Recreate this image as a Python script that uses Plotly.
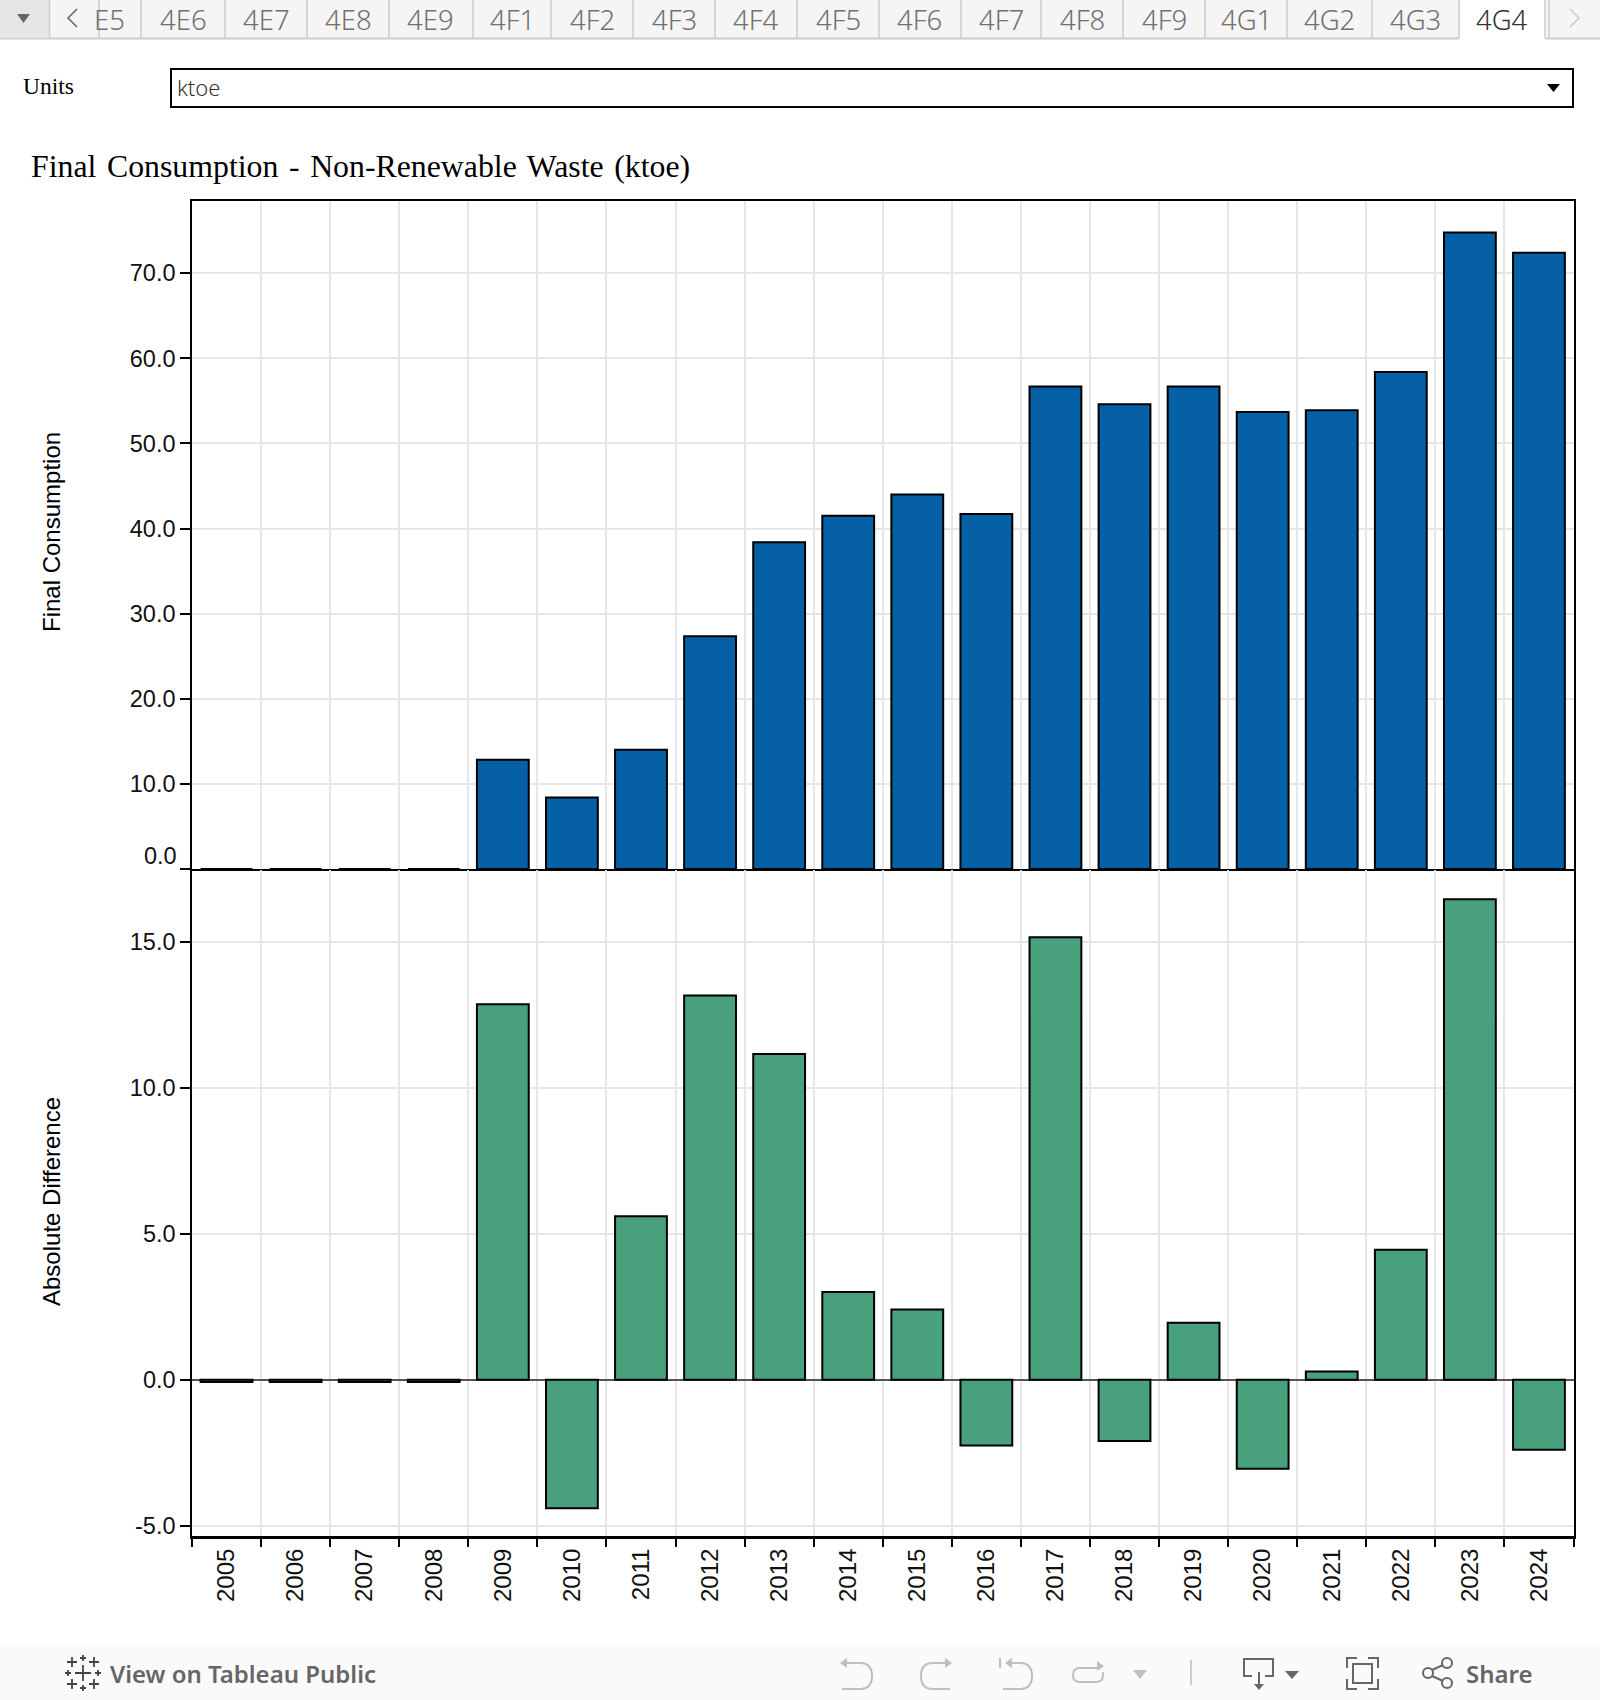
import re
import plotly.graph_objects as go

years = ["2005", "2006", "2007", "2008", "2009", "2010", "2011", "2012", "2013", "2014",
         "2015", "2016", "2017", "2018", "2019", "2020", "2021", "2022", "2023", "2024"]
final_consumption = [0, 0, 0, 0, 12.85, 8.4, 14.0, 27.35, 38.4, 41.5,
                     44.0, 41.7, 56.7, 54.6, 56.7, 53.7, 53.9, 58.4, 74.8, 72.4]
absolute_difference = [-0.08, -0.08, -0.08, -0.08, 12.85, -4.4, 5.6, 13.15, 11.15, 3.0,
                       2.4, -2.25, 15.15, -2.1, 1.95, -3.05, 0.28, 4.45, 16.45, -2.4]
top_ticks = [0, 10, 20, 30, 40, 50, 60, 70]
top_tick_labels = ["", "10.0", "20.0", "30.0", "40.0", "50.0", "60.0", "70.0"]
low_ticks = [-5, 0, 5, 10, 15]
low_tick_labels = ["-5.0", "0.0", "5.0", "10.0", "15.0"]
tab_labels = ["E5", "4E6", "4E7", "4E8", "4E9", "4F1", "4F2", "4F3", "4F4", "4F5",
              "4F6", "4F7", "4F8", "4F9", "4G1", "4G2", "4G3", "4G4"]
tab_edges = [99, 141, 225, 307, 389, 473, 551, 633, 715, 797, 879, 961, 1041, 1123, 1205, 1287, 1372, 1459, 1545]

W, H = 1600, 1700
BLUE = "#0560a6"
GREEN = "#48a17c"
GRID = "#e6e6e6"
SANS = "Liberation Sans"
SERIF = "Liberation Serif"
UI = "Noto Sans"
TAB = "Noto Sans"


def X(v):
    return v / W


def Y(v):
    return 1 - v / H


def conv(path):
    out, is_x = [], True
    for tok in re.findall(r"[A-Za-z]|-?[\d.]+", path):
        if tok.isalpha():
            out.append(tok)
            is_x = True
        else:
            out.append(f"{X(float(tok)) if is_x else Y(float(tok)):.5f}")
            is_x = not is_x
    return " ".join(out)


shapes = []
annotations = []


def rect(x0, y0, x1, y1, fill=None, line=None, w=1, layer="above"):
    shapes.append(dict(type="rect", xref="paper", yref="paper", x0=X(x0), x1=X(x1), y0=Y(y0), y1=Y(y1),
                       fillcolor=fill or "rgba(0,0,0,0)", line=dict(color=line or "rgba(0,0,0,0)", width=w if line else 0),
                       layer=layer))


def path(p, line=None, w=2, fill=None):
    shapes.append(dict(type="path", xref="paper", yref="paper", path=conv(p),
                       fillcolor=fill or "rgba(0,0,0,0)", line=dict(color=line or "rgba(0,0,0,0)", width=w if line else 0),
                       layer="above"))


def circle(cx, cy, r, line, w=2):
    shapes.append(dict(type="circle", xref="paper", yref="paper", x0=X(cx - r), x1=X(cx + r), y0=Y(cy + r), y1=Y(cy - r),
                       line=dict(color=line, width=w), layer="above"))


def text(s, x, y, size, color="#000", family=SANS, anchor="center", angle=0, weight=None):
    font = dict(size=size, color=color, family=family)
    if weight:
        font["weight"] = weight
    annotations.append(dict(text=s, x=X(x), y=Y(y), xref="paper", yref="paper", showarrow=False, xanchor=anchor,
                            yanchor="middle", textangle=angle, font=font, borderpad=0))


# tab strip
rect(0, 0, W, 38, fill="#f5f5f5")
path("M 0 38.5 L 1459 38.5", line="#cccccc", w=2)
path("M 1545 38.5 L 1600 38.5", line="#cccccc", w=2)
rect(0, 0, 49, 38, fill="#e6e6e6")
for e in tab_edges[:-1]:
    path(f"M {e} 0 L {e} 38", line="#cccccc", w=1.5)
rect(1460, 0, 1545, 40, fill="#ffffff")
path("M 1545 0 L 1545 38", line="#cccccc", w=1.5)
path("M 1549 0 L 1549 38", line="#cccccc", w=1.5)
path("M 49.5 0 L 49.5 38", line="#cccccc", w=1.5)
path("M 17 14 L 30 14 L 23.5 23 Z", fill="#666666")
path("M 77 9 L 68 18 L 77 27", line="#666666", w=1.5)
path("M 1570 9 L 1579 18 L 1570 27", line="#cccccc", w=1.5)
for i, lab in enumerate(tab_labels):
    cx = (tab_edges[i] + tab_edges[i + 1]) / 2
    if i == 0:
        text(lab, 126, 20, 27.5, color="#707070", family=TAB, anchor="right", weight=300)
    else:
        text(lab, cx, 20, 27.5, color="#333333" if lab == "4G4" else "#707070", family=TAB, weight=300)

# Units control
text("Units", 22, 86, 23.5, family=SERIF, anchor="left")
rect(171, 69, 1573, 107, line="#000000", w=2)
text("ktoe", 176, 87, 22, color="#333333", family=TAB, anchor="left", weight=300)
path("M 1547 84 L 1560 84 L 1553.5 92 Z", fill="#000000")

# title
text("Final\u200a Consumption\u200a -\u200a Non-Renewable\u200a Waste\u200a (ktoe)", 30, 166.5, 31.8, family=SERIF, anchor="left")

# axis titles and the raised zero label
text("Final Consumption", 51, 532, 24, angle=-90)
text("Absolute Difference", 51, 1202, 24, angle=-90)
text("0.0", 178, 856, 23.5, color="#111111", anchor="right")

# toolbar
rect(0, 1646, W, H, fill="#fafafa")
for cx, cy, r in [(83, 1673, 8), (72, 1662, 5), (94, 1662, 5), (72, 1684, 5), (94, 1684, 5),
                  (83, 1658, 3), (83, 1688, 3), (68, 1673, 3), (98, 1673, 3)]:
    path(f"M {cx - r} {cy} L {cx + r} {cy} M {cx} {cy - r} L {cx} {cy + r}", line="#444444", w=1.8)
text("View on Tableau Public", 109, 1673, 24, color="#666666", family=UI, anchor="left", weight=600)

G = "#bfbfbf"
path("M 845 1663 L 860 1663 Q 872 1663 872 1676 Q 872 1689 860 1689 L 842 1689", line=G)
path("M 840 1663 L 847 1658 L 847 1668 Z", fill=G)
path("M 945 1663 L 933 1663 Q 921 1663 921 1676 Q 921 1689 933 1689 L 950 1689", line=G)
path("M 952 1663 L 945 1658 L 945 1668 Z", fill=G)
path("M 1000 1658 L 1000 1668", line=G)
path("M 1010 1663 L 1020 1663 Q 1032 1663 1032 1676 Q 1032 1689 1020 1689 L 1003 1689", line=G)
path("M 1005 1663 L 1012 1658 L 1012 1668 Z", fill=G)
path("M 1098 1668 L 1080 1668 Q 1073 1668 1073 1675 Q 1073 1682 1080 1682 L 1096 1682 Q 1103 1682 1103 1675 L 1103 1672", line=G)
path("M 1104 1666 L 1097 1661 L 1097 1671 Z", fill=G)
path("M 1133 1670 L 1147 1670 L 1140 1679 Z", fill=G)
path("M 1191 1660 L 1191 1685", line="#cccccc")

D = "#666666"
path("M 1252 1676 L 1244 1676 L 1244 1659 L 1273 1659 L 1273 1676 L 1265 1676", line=D)
path("M 1259 1672 L 1259 1686", line=D)
path("M 1254 1684 L 1264 1684 L 1259 1690 Z", fill=D)
path("M 1285 1671 L 1299 1671 L 1292 1679 Z", fill=D)
path("M 1347 1668 L 1347 1658 L 1357 1658 M 1368 1658 L 1378 1658 L 1378 1668 M 1378 1679 L 1378 1689 L 1368 1689 M 1357 1689 L 1347 1689 L 1347 1679", line=D)
rect(1353, 1664, 1372, 1683, line=D, w=2)
circle(1447, 1663, 5, D)
circle(1428, 1673, 5, D)
circle(1447, 1683, 5, D)
path("M 1432 1670 L 1443 1665 M 1432 1676 L 1443 1681", line=D)
text("Share", 1465, 1673, 24, color=D, family=UI, anchor="left", weight=600)

fig = go.Figure()
fig.add_trace(go.Bar(x=years, y=final_consumption, width=0.75, marker=dict(color=BLUE, line=dict(color="#000", width=2)),
                     xaxis="x", yaxis="y", showlegend=False, name="Final Consumption"))
fig.add_trace(go.Bar(x=years, y=absolute_difference, width=0.75, marker=dict(color=GREEN, line=dict(color="#000", width=2)),
                     xaxis="x2", yaxis="y2", showlegend=False, name="Absolute Difference"))

common_x = dict(type="category", range=[-0.5, 19.5], domain=[X(192), X(1573.5)], tickson="boundaries", showgrid=True,
                gridcolor=GRID, gridwidth=2, showline=True, linecolor="#000", zeroline=False)
common_y = dict(showgrid=True, gridcolor=GRID, gridwidth=2, showline=True, linecolor="#000", linewidth=1.5, mirror=True,
                ticks="outside", ticklen=10, tickwidth=2, tickcolor="#000", tickmode="array",
                tickfont=dict(family=SANS, size=23.5, color="#111111"))

fig.update_layout(
    width=W, height=H, margin=dict(l=0, r=0, t=0, b=0, autoexpand=False), paper_bgcolor="#fff", plot_bgcolor="#fff",
    barmode="overlay", showlegend=False, shapes=shapes, annotations=annotations,
    xaxis=dict(anchor="y", showticklabels=False, ticks="", linewidth=1.5, mirror=True, **common_x),
    xaxis2=dict(anchor="y2", ticks="outside", ticklen=8, tickwidth=2, tickcolor="#000", tickangle=-90, linewidth=3,
                tickfont=dict(family=SANS, size=24, color="#111111"), **common_x),
    yaxis=dict(anchor="x", domain=[Y(869), Y(200.5)], range=[0, 78.55], tickvals=top_ticks, ticktext=top_tick_labels,
               zeroline=False, **common_y),
    yaxis2=dict(anchor="x2", domain=[Y(1536), Y(870)], range=[-5.35, 17.45], tickvals=low_ticks, ticktext=low_tick_labels,
                zeroline=True, zerolinecolor="#555555", zerolinewidth=2, **common_y),
)

fig.write_html("out.html", config=dict(displayModeBar=False),
               post_script="document.body.style.margin='0';document.body.style.overflow='hidden';")
